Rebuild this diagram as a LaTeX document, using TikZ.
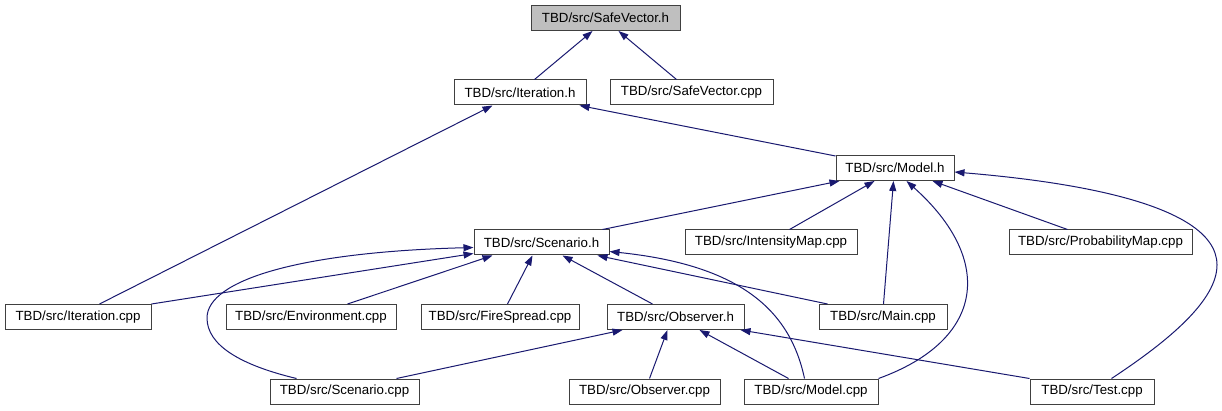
\documentclass[tikz,border=0pt]{standalone}
\usepackage{fontspec}
\setmainfont{Liberation Sans}
\usetikzlibrary{arrows.meta,calc}
\definecolor{edgeblue}{HTML}{191970}
\definecolor{boxline}{HTML}{404040}
\definecolor{rootfill}{HTML}{BFBFBF}
\begin{document}
\begin{tikzpicture}[x=1pt,y=-1pt,
  box/.style={draw=boxline,line width=1pt,fill=white,minimum height=25pt,inner sep=0pt,font=\fontsize{13.3}{15}\selectfont},
  dep/.style={draw=edgeblue,line width=1pt,-{Triangle[length=10pt,width=7pt]}},
]
\useasboundingbox[fill=white] (0,0) rectangle (1222,411);
\node[box, fill=rootfill, minimum width=149pt] (sv) at (605.5,18) {TBD/src/SafeVector.h};
\node[box, minimum width=132pt] (ith) at (520,92.5) {TBD/src/Iteration.h};
\node[box, minimum width=163pt] (svc) at (691.5,92.5) {TBD/src/SafeVector.cpp};
\node[box, minimum width=118pt] (mh) at (895,168) {TBD/src/Model.h};
\node[box, minimum width=135pt] (sh) at (541.5,242.5) {TBD/src/Scenario.h};
\node[box, minimum width=172pt] (imc) at (771,242.5) {TBD/src/IntensityMap.cpp};
\node[box, minimum width=183pt] (pmc) at (1100.5,242.5) {TBD/src/ProbabilityMap.cpp};
\node[box, minimum width=146pt] (itc) at (78,317) {TBD/src/Iteration.cpp};
\node[box, minimum width=170pt] (envc) at (311,317) {TBD/src/Environment.cpp};
\node[box, minimum width=158pt] (fsc) at (500,317) {TBD/src/FireSpread.cpp};
\node[box, minimum width=137pt] (oh) at (675.5,317) {TBD/src/Observer.h};
\node[box, minimum width=128pt] (mainc) at (883,317) {TBD/src/Main.cpp};
\node[box, minimum width=149pt] (scc) at (344.5,391.5) {TBD/src/Scenario.cpp};
\node[box, minimum width=151pt] (occ) at (644.5,391.5) {TBD/src/Observer.cpp};
\node[box, minimum width=134pt] (mcc) at (811,391.5) {TBD/src/Model.cpp};
\node[box, minimum width=124pt] (tc) at (1092,391.5) {TBD/src/Test.cpp};

% into SafeVector.h
\draw[dep] ($(ith.north west)+(81,0)$) -- ($(sv.south west)+(62,0)$);
\draw[dep] ($(svc.north west)+(67,0)$) -- ($(sv.south west)+(88,0)$);
% into Iteration.h
\draw[dep] ($(itc.north west)+(95,0)$) -- ($(ith.south west)+(39,0)$);
\draw[dep] ($(mh.north west)+(0,1)$) -- ($(ith.south west)+(126,0)$);
% into Model.h
\draw[dep] ($(sh.north west)+(129,0)$) -- ($(mh.south west)+(4,0)$);
\draw[dep] ($(imc.north west)+(105,0)$) -- ($(mh.south west)+(39,0)$);
\draw[dep] ($(mainc.north west)+(65,0)$) -- ($(mh.south west)+(58,0)$);
\draw[dep] (mcc.north east) .. controls (985,340) and (995,260) .. ($(mh.south west)+(71,0)$);
\draw[dep] ($(pmc.north west)+(59,0)$) -- ($(mh.south west)+(97,0)$);
\coordinate (tcturn) at (1217,265);
\draw[dep] ($(tc.north west)+(82,0)$) .. controls (1170,340) and (1217,300) .. (tcturn)
  .. controls (1217,200) and (1050,180) .. ($(mh.north east)+(0,17)$);
% into Scenario.h
\draw[dep] (itc.north east) -- ($(sh.south west)+(0,-2)$);
\coordinate (scturn) at (207,318);
\draw[dep] ($(scc.north west)+(27,0)$) .. controls (240,365) and (207,345) .. (scturn)
  .. controls (207,280) and (300,252) .. ($(sh.south west)+(0,-8)$);
\draw[dep] ($(envc.north west)+(122,0)$) -- ($(sh.south west)+(19,0)$);
\draw[dep] ($(fsc.north west)+(87,0)$) -- ($(sh.south west)+(59,0)$);
\draw[dep] ($(oh.north west)+(46,0)$) -- ($(sh.south west)+(89,0)$);
\draw[dep] ($(mainc.north west)+(9,0)$) -- ($(sh.south west)+(124,0)$);
\draw[dep] ($(mcc.north west)+(61,0)$) .. controls (790,310) and (740,265) .. ($(sh.south east)+(0,-4)$);
% into Observer.h
\draw[dep] ($(scc.north west)+(127,0)$) -- ($(oh.south west)+(16,0)$);
\draw[dep] ($(occ.north west)+(81,0)$) -- ($(oh.south west)+(61,0)$);
\draw[dep] ($(mcc.north west)+(45,0)$) -- ($(oh.south west)+(93,0)$);
\draw[dep] (tc.north west) -- ($(oh.south east)+(-4,0)$);
\end{tikzpicture}
\end{document}
